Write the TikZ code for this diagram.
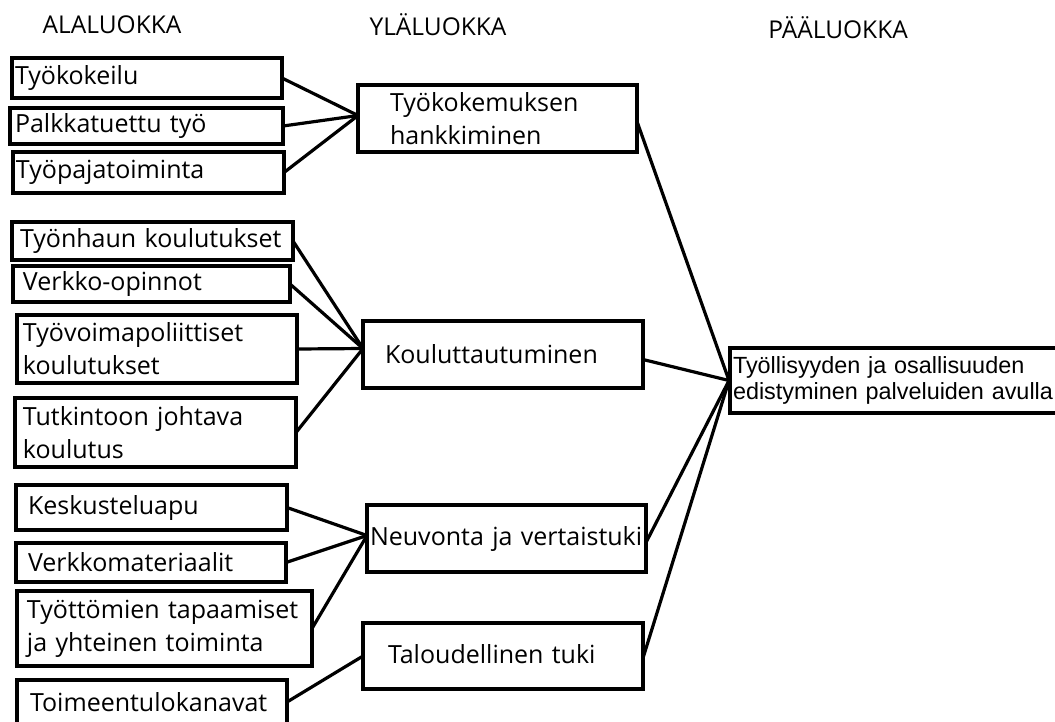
\documentclass[tikz,border=0pt]{standalone}
\usepackage{fontspec}
\setmainfont{Open Sans}
\newfontfamily\arialf{Liberation Sans}
\tikzset{
  box/.style={draw, line width=3.2pt, rectangle, inner ysep=0pt, outer sep=0pt,
    align=left, anchor=north west, font=\fontsize{25}{33}\selectfont},
  conn/.style={line width=3.2pt},
  title/.style={font=\fontsize{24.5}{28}\selectfont, inner sep=0pt}
}
\newcommand\mybox[7]{%
  \pgfmathsetmacro\bw{#4-#2}\pgfmathsetmacro\bh{#5-#3}\pgfmathsetmacro\tw{#4-#2-2*#6}%
  \node[box, minimum width=\bw pt, minimum height=\bh pt, text width=\tw pt, inner xsep=#6pt] (#1) at (#2,#3) {#7};}
\begin{document}
\begin{tikzpicture}[x=1pt,y=-1pt]
\useasboundingbox (0,0) rectangle (1055,721);
\clip (0,0) rectangle (1055,721);
% titles
\node[title] (tA) at (112,25) {ALALUOKKA};
\node[title] (tY) at (438,25) {YLÄLUOKKA};
\node[title] (tP) at (838,28) {PÄÄLUOKKA};
% lower level
\mybox{a1}{12}{58}{282}{98}{3}{\mbox{Työkokeilu}}
\mybox{a2}{10}{108}{283}{144}{5}{\mbox{Palkkatuettu työ}}
\mybox{a3}{13}{152}{284}{193}{3}{\mbox{Työpajatoiminta}}
\mybox{b1}{12}{222}{293}{260}{8}{\mbox{Työnhaun koulutukset}}
\mybox{b2}{13}{266}{290}{302}{10}{\mbox{Verkko-opinnot}}
\mybox{b3}{17}{315}{297}{383}{6}{\mbox{Työvoimapoliittiset}\\\mbox{koulutukset}}
\mybox{b4}{15}{398}{296}{467}{8}{\mbox{Tutkintoon johtava}\\\mbox{koulutus}}
\mybox{c1}{16}{485}{287}{530}{12}{\mbox{Keskusteluapu}}
\mybox{c2}{16}{543}{286}{582}{12}{\mbox{Verkkomateriaalit}}
\mybox{c3}{17}{591}{312}{666}{10}{\mbox{Työttömien tapaamiset}\\\mbox{ja yhteinen toiminta}}
\mybox{d1}{17}{680}{287}{724}{13}{\mbox{Toimeentulokanavat}}
% upper level
\mybox{A}{358}{85}{637}{152}{32}{\mbox{Työkokemuksen}\\\mbox{hankkiminen}}
\mybox{B}{363}{321}{643}{388}{22}{\mbox{Kouluttautuminen}}
\mybox{C}{367}{505}{646}{572}{3}{\mbox{Neuvonta ja vertaistuki}}
\mybox{D}{363}{623}{643}{689}{25}{\raisebox{5pt}{\mbox{Taloudellinen tuki}}}
% main
\node[box, minimum width=360pt, minimum height=65pt, text width=354pt, inner xsep=3pt,
  font=\arialf\fontsize{23.4}{26.7}\selectfont] (M) at (730,348)
  {\mbox{Työllisyyden ja osallisuuden}\\\mbox{edistyminen palveluiden avulla}};
% connectors
\foreach \s in {a1,a2,a3} \draw[conn] (\s.east) -- ([yshift=3pt]A.west);
\foreach \s in {b1,b2,b3,b4} \draw[conn] (\s.east) -- ([yshift=6pt]B.west);
\foreach \s in {c1,c2,c3} \draw[conn] (\s.east) -- ([yshift=3pt]C.west);
\draw[conn] (d1.east) -- (D.west);
\coordinate (Min) at ([xshift=-1pt]M.west);
\draw[conn] ([yshift=-3pt]A.east) -- (Min);
\draw[conn] ([yshift=-5pt]B.east) -- (Min);
\draw[conn] ([yshift=-4pt]C.east) -- (Min);
\draw[conn] ([yshift=-2pt]D.east) -- (Min);
\end{tikzpicture}
\end{document}
